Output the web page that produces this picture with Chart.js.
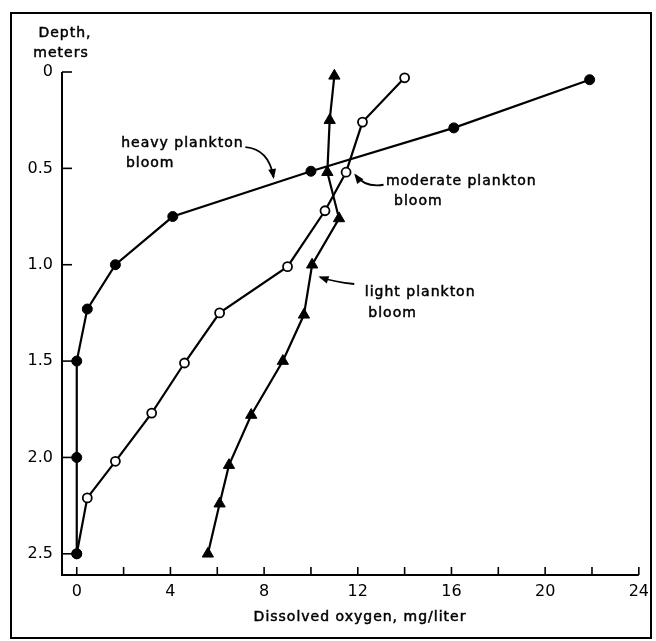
<!DOCTYPE html>
<html>
<head>
<meta charset="utf-8">
<script src="https://cdn.jsdelivr.net/npm/chart.js@4.4.0/dist/chart.umd.min.js"></script>
<style>
  html, body { margin: 0; padding: 0; background: #fff; }
  #wrap { position: relative; width: 656px; height: 641px; }
</style>
</head>
<body>
<div id="wrap"><canvas id="myChart"></canvas></div>
<script>
// dissolved oxygen (mg/liter) by depth (m), one profile per bloom
const heavyOxygen = [21.9, 16.1, 10.0, 4.1, 1.65, 0.45, 0, 0, 0];
const heavyDepth = [0.04, 0.29, 0.515, 0.75, 1.0, 1.23, 1.5, 2.0, 2.5];

const moderateOxygen = [14.0, 12.2, 11.5, 10.6, 9.0, 6.1, 4.6, 3.2, 1.65, 0.45, 0];
const moderateDepth = [0.03, 0.26, 0.52, 0.72, 1.01, 1.25, 1.51, 1.77, 2.02, 2.21, 2.5];

const lightOxygen = [11.0, 10.8, 10.7, 11.2, 10.05, 9.7, 8.8, 7.45, 6.5, 6.1, 5.6];
const lightDepth = [0.02, 0.25, 0.52, 0.76, 1.0, 1.26, 1.5, 1.78, 2.04, 2.24, 2.5];

// axis ticks
const oxygenTicks = [0, 2, 4, 6, 8, 10, 12, 14, 16, 18, 20, 22, 24];
const oxygenLabels = [0, 4, 8, 12, 16, 20, 24];
const depthTicks = [0, 0.5, 1.0, 1.5, 2.0, 2.5];

const FONT = '"DejaVu Sans", sans-serif';

function toPoints(xs, ys) {
    return xs.map((x, i) => ({ x: x, y: ys[i] }));
}

// slightly heavier text, closer to the old drafting lettering
function label(ctx, text, x, y) {
    ctx.fillText(text, x, y);
    ctx.strokeText(text, x, y);
}

// inward tick marks, axis lines, frame and the curved callouts
const decorations = {
    id: 'decorations',
    afterDraw(chart) {
        const ctx = chart.ctx;
        const xs = chart.scales.x;
        const ys = chart.scales.y;
        const area = chart.chartArea;
        ctx.save();
        ctx.strokeStyle = '#000';
        ctx.fillStyle = '#000';
        ctx.lineCap = 'butt';

        // outer frame
        ctx.lineWidth = 2;
        ctx.strokeRect(11, 13, 640, 625);

        // axes
        ctx.beginPath();
        ctx.moveTo(area.left, area.top);
        ctx.lineTo(area.left, area.bottom);
        ctx.lineTo(xs.getPixelForValue(24), area.bottom);
        ctx.stroke();

        ctx.lineWidth = 1.6;
        oxygenTicks.forEach(v => {
            const px = xs.getPixelForValue(v);
            ctx.beginPath();
            ctx.moveTo(px, area.bottom);
            ctx.lineTo(px, area.bottom - 8);
            ctx.stroke();
        });
        depthTicks.forEach(v => {
            const py = ys.getPixelForValue(v);
            ctx.beginPath();
            ctx.moveTo(area.left, py);
            ctx.lineTo(area.left + 10, py);
            ctx.stroke();
        });

        // axis titles
        ctx.lineWidth = 0.5;
        ctx.letterSpacing = '1px';
        ctx.font = '14px ' + FONT;
        ctx.textAlign = 'center';
        ctx.textBaseline = 'middle';
        label(ctx, 'Depth,', 65, 33);
        label(ctx, 'meters', 61, 53);
        label(ctx, 'Dissolved oxygen, mg/liter', 360, 617);

        // callout labels
        const px = v => xs.getPixelForValue(v);
        const py = v => ys.getPixelForValue(v);
        ctx.textAlign = 'left';
        label(ctx, 'heavy plankton', px(1.9), py(0.37));
        label(ctx, 'bloom', px(2.1), py(0.475));
        label(ctx, 'moderate plankton', px(13.2), py(0.57));
        label(ctx, 'bloom', px(13.55), py(0.67));
        label(ctx, 'light plankton', px(12.3), py(1.143));
        label(ctx, 'bloom', px(12.45), py(1.253));

        function callout(x0, y0, cx, cy, x1, y1) {
            const sx = px(x0), sy = py(y0);
            const qx = px(cx), qy = py(cy);
            const ex = px(x1), ey = py(y1);
            ctx.lineWidth = 1.8;
            ctx.beginPath();
            ctx.moveTo(sx, sy);
            ctx.quadraticCurveTo(qx, qy, ex, ey);
            ctx.stroke();
            const ang = Math.atan2(ey - qy, ex - qx);
            const len = 9, spread = 0.45;
            ctx.beginPath();
            ctx.moveTo(ex + Math.cos(ang) * 2, ey + Math.sin(ang) * 2);
            ctx.lineTo(ex - Math.cos(ang - spread) * len, ey - Math.sin(ang - spread) * len);
            ctx.lineTo(ex - Math.cos(ang + spread) * len, ey - Math.sin(ang + spread) * len);
            ctx.closePath();
            ctx.fill();
        }
        callout(7.2, 0.39, 8.2, 0.4, 8.4, 0.545);
        callout(13.1, 0.585, 12.3, 0.6, 11.9, 0.535);
        callout(11.85, 1.1, 11.0, 1.09, 10.4, 1.065);

        ctx.restore();
    }
};

const ctx = document.getElementById('myChart').getContext('2d');
new Chart(ctx, {
    type: 'scatter',
    data: {
        datasets: [{
            label: 'heavy plankton bloom',
            data: toPoints(heavyOxygen, heavyDepth),
            showLine: true,
            borderColor: '#000',
            borderWidth: 2.2,
            pointStyle: 'circle',
            pointRadius: 5,
            pointBackgroundColor: '#000',
            pointBorderColor: '#000',
            pointBorderWidth: 1,
            order: 0,
            clip: false
        }, {
            label: 'light plankton bloom',
            data: toPoints(lightOxygen, lightDepth),
            showLine: true,
            borderColor: '#000',
            borderWidth: 2.2,
            pointStyle: 'triangle',
            pointRadius: 6.5,
            pointBackgroundColor: '#000',
            pointBorderColor: '#000',
            pointBorderWidth: 1,
            order: 1,
            clip: false
        }, {
            label: 'moderate plankton bloom',
            data: toPoints(moderateOxygen, moderateDepth),
            showLine: true,
            borderColor: '#000',
            borderWidth: 2.2,
            pointStyle: 'circle',
            pointRadius: 4.5,
            pointBackgroundColor: '#fff',
            pointBorderColor: '#000',
            pointBorderWidth: 1.8,
            order: 2,
            clip: false
        }]
    },
    options: {
        responsive: true,
        maintainAspectRatio: false,
        animation: false,
        layout: {
            padding: { left: 0, top: 72, right: 11, bottom: 0 }
        },
        plugins: {
            legend: { display: false },
            tooltip: { enabled: false }
        },
        scales: {
            x: {
                type: 'linear',
                min: -0.63,
                max: 24,
                grid: { display: false, drawTicks: false },
                border: { display: false },
                afterBuildTicks: scale => {
                    scale.ticks = oxygenTicks.map(v => ({ value: v }));
                },
                afterFit: scale => { scale.height = 66; },
                ticks: {
                    autoSkip: false,
                    maxRotation: 0,
                    padding: 7,
                    color: '#000',
                    font: { family: FONT, size: 16 },
                    callback: value => oxygenLabels.includes(value) ? String(value) : ''
                }
            },
            y: {
                type: 'linear',
                reverse: true,
                min: 0,
                max: 2.61,
                grid: { display: false, drawTicks: false },
                border: { display: false },
                afterBuildTicks: scale => {
                    scale.ticks = depthTicks.map(v => ({ value: v }));
                },
                afterFit: scale => { scale.width = 62; },
                ticks: {
                    autoSkip: false,
                    padding: 9,
                    color: '#000',
                    font: { family: FONT, size: 16 },
                    callback: value => value === 0 ? '0' : value.toFixed(1)
                }
            }
        }
    },
    plugins: [decorations]
});
</script>
</body>
</html>
